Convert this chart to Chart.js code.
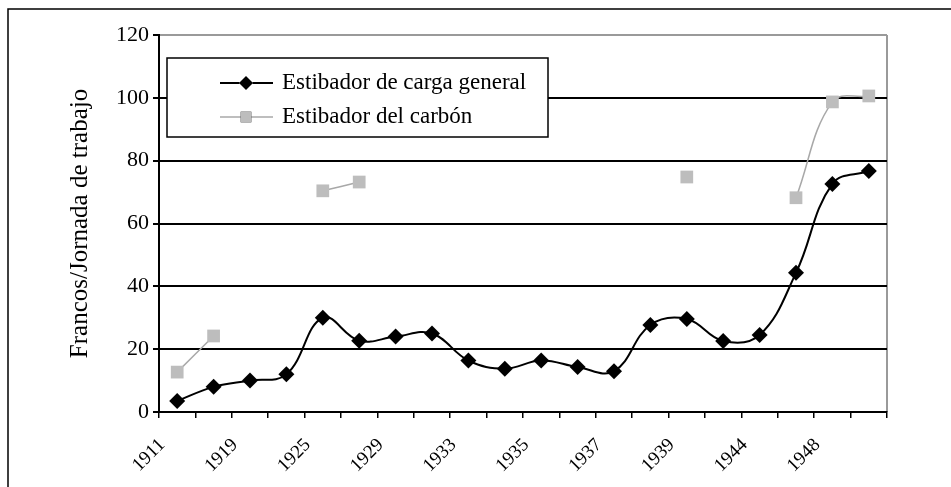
<!DOCTYPE html>
<html>
<head>
<meta charset="utf-8">
<script src="https://cdn.jsdelivr.net/npm/chart.js@4/dist/chart.umd.min.js"></script>
<style>
  html, body { margin: 0; padding: 0; background: #fff; }
  #wrap { width: 951px; height: 487px; position: relative; }
</style>
</head>
<body>
<div id="wrap"><canvas id="chart_jornales"></canvas></div>
<script>
// categorias (solo se rotula una de cada dos)
var years = ['1911', '', '1919', '', '1925', '', '1929', '', '1933', '', '1935', '', '1937', '', '1939', '', '1944', '', '1948', ''];
var cargaGeneral = [3.5, 8, 10, 12, 30, 22.7, 24, 25, 16.4, 13.8, 16.4, 14.3, 13, 27.7, 29.6, 22.6, 24.5, 44.3, 72.6, 76.7];
var carbon = [12.7, 24.2, null, null, 70.4, 73.2, null, null, null, null, null, null, null, null, 74.8, null, null, 68.2, 98.7, 100.6];
var yTicks = [0, 20, 40, 60, 80, 100, 120];

var serif = '"Liberation Serif", "Times New Roman", serif';

var chart_jornales = new Chart(document.getElementById('chart_jornales'), {
    type: 'line',
    data: {
        labels: years,
        datasets: [
            {
                label: 'Estibador de carga general',
                data: cargaGeneral,
                borderColor: '#000000',
                backgroundColor: '#000000',
                borderWidth: 2,
                tension: 0.4,
                pointStyle: 'rectRot',
                pointRadius: 8,
                pointBorderWidth: 0,
                pointBackgroundColor: '#000000'
            },
            {
                label: 'Estibador del carbón',
                data: carbon,
                borderColor: '#a8a8a8',
                backgroundColor: '#bdbdbd',
                borderWidth: 1.5,
                tension: 0.4,
                pointStyle: 'rect',
                pointRadius: 9,
                pointBorderWidth: 0,
                pointBackgroundColor: '#bdbdbd'
            }
        ]
    },
    options: {
        animation: false,
        responsive: true,
        maintainAspectRatio: false,
        spanGaps: false,
        layout: {
            padding: { top: 35, right: 64, left: 0, bottom: 0 }
        },
        plugins: {
            legend: { display: false },
            tooltip: { enabled: false }
        },
        scales: {
            x: {
                type: 'category',
                offset: true,
                afterFit: function(scale) { scale.height = 75; },
                border: { display: true, color: '#000', width: 2 },
                grid: {
                    offset: true,
                    drawOnChartArea: false,
                    drawTicks: true,
                    tickLength: 6,
                    color: '#000',
                    lineWidth: 1.5
                },
                ticks: {
                    autoSkip: false,
                    minRotation: 45,
                    maxRotation: 45,
                    labelOffset: -15,
                    padding: 16,
                    color: '#000',
                    font: { family: serif, size: 19 }
                }
            },
            y: {
                min: 0,
                max: 120,
                afterFit: function(scale) { scale.width = 159; },
                afterBuildTicks: function(scale) {
                    scale.ticks = yTicks.map(function(v) { return { value: v }; });
                },
                border: { display: true, color: '#000', width: 2 },
                grid: {
                    drawTicks: true,
                    tickLength: 6,
                    tickColor: '#000',
                    lineWidth: 2,
                    color: function(ctx) {
                        if (ctx.tick && ctx.tick.value === 120) return '#9a9a9a';
                        if (ctx.tick && ctx.tick.value === 0) return 'rgba(0,0,0,0)';
                        return '#000';
                    }
                },
                ticks: {
                    padding: 4,
                    color: '#000',
                    font: { family: serif, size: 22 }
                },
                title: {
                    display: true,
                    text: 'Francos/Jornada de trabajo',
                    color: '#000',
                    font: { family: serif, size: 25 },
                    padding: { top: 65, bottom: 0 }
                }
            }
        }
    },
    plugins: [{
        id: 'marco',
        beforeDraw: function(chart) {
            var ctx = chart.ctx;
            ctx.save();
            ctx.fillStyle = 'white';
            ctx.fillRect(0, 0, chart.width, chart.height);
            ctx.strokeStyle = '#000';
            ctx.lineWidth = 1.5;
            ctx.beginPath();
            ctx.moveTo(8, chart.height);
            ctx.lineTo(8, 9);
            ctx.lineTo(chart.width, 9);
            ctx.stroke();
            // borde derecho gris del area de trazado
            var a = chart.chartArea;
            ctx.strokeStyle = '#9a9a9a';
            ctx.lineWidth = 2;
            ctx.beginPath();
            ctx.moveTo(a.right, a.top);
            ctx.lineTo(a.right, a.bottom);
            ctx.stroke();
            ctx.restore();
        },
        afterDraw: function(chart) {
            var ctx = chart.ctx;
            var a = chart.chartArea;
            var bx = a.left + 8, by = a.top + 23, bw = 381, bh = 79;
            ctx.save();
            ctx.fillStyle = '#fff';
            ctx.fillRect(bx, by, bw, bh);
            ctx.strokeStyle = '#000';
            ctx.lineWidth = 1.5;
            ctx.strokeRect(bx, by, bw, bh);
            ctx.font = '23px ' + serif;
            ctx.textBaseline = 'middle';
            ctx.textAlign = 'left';
            chart.data.datasets.forEach(function(ds, i) {
                var y = by + 25 + i * 34;
                ctx.strokeStyle = ds.borderColor;
                ctx.lineWidth = ds.borderWidth;
                ctx.beginPath();
                ctx.moveTo(bx + 53, y);
                ctx.lineTo(bx + 106, y);
                ctx.stroke();
                Chart.helpers.drawPoint(ctx, {
                    pointStyle: ds.pointStyle,
                    radius: ds.pointStyle === 'rect' ? 7.5 : 7,
                    borderWidth: 0,
                    rotation: 0
                }, bx + 79, y);
                ctx.fillStyle = ds.pointBackgroundColor;
                ctx.fill();
                ctx.fillStyle = '#000';
                ctx.fillText(ds.label, bx + 115, y);
            });
            ctx.restore();
        }
    }]
});
</script>
</body>
</html>
